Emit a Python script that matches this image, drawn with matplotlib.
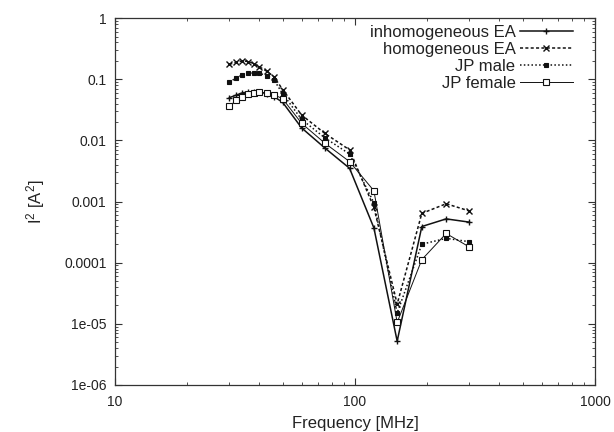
import matplotlib
matplotlib.use("Agg")
import matplotlib.pyplot as plt
from matplotlib.ticker import FixedLocator, LogLocator, NullFormatter

plt.rcParams['font.family'] = ['Liberation Sans', 'DejaVu Sans']
plt.rcParams['mathtext.fontset'] = 'custom'
plt.rcParams['mathtext.rm'] = 'Liberation Sans'
plt.rcParams['mathtext.it'] = 'Liberation Sans'

freq = [30, 32, 34, 36, 38, 40, 43, 46, 50, 60, 75, 95, 120, 150, 190, 240, 300]

inhom_ea = [0.050, 0.055, 0.060, 0.062, 0.063, 0.062, 0.058, 0.052, 0.042, 0.016, 0.0075, 0.0035,
            0.00037, 5.2e-6, 0.00039, 0.00052, 0.00046]
homog_ea = [0.175, 0.19, 0.20, 0.195, 0.18, 0.16, 0.135, 0.11, 0.068, 0.026, 0.013, 0.007,
            0.0008, 2.1e-5, 0.00064, 0.00092, 0.00070]
jp_male = [0.09, 0.105, 0.118, 0.125, 0.128, 0.125, 0.115, 0.098, 0.058, 0.022, 0.011, 0.006,
           0.00095, 1.5e-5, 0.00020, 0.00025, 0.00022]
jp_female = [0.036, 0.045, 0.052, 0.057, 0.060, 0.061, 0.060, 0.056, 0.048, 0.019, 0.009, 0.0045,
             0.0015, 1.05e-5, 0.000112, 0.00030, 0.00018]

labels = ["inhomogeneous EA", "homogeneous EA", "JP male", "JP female"]

xticks = [10, 100, 1000]
xticklabels = ["10", "100", "1000"]
yticks = [1e-6, 1e-5, 1e-4, 1e-3, 1e-2, 1e-1, 1]
yticklabels = ["1e-06", "1e-05", "0.0001", "0.001", "0.01", "0.1", "1"]

fig = plt.figure(figsize=(6.14, 4.32), dpi=100)
ax = fig.add_axes([0.187, 0.109, 0.782, 0.849])

col = '#111111'
ax.plot(freq, inhom_ea, color=col, lw=1.1, ls='-', marker='+', ms=5, mew=1.0, label=labels[0])
ax.plot(freq, homog_ea, color=col, lw=1.1, ls=(0, (2, 1.5)), marker='x', ms=4, mew=1.0, label=labels[1])
ax.plot(freq, jp_male, color=col, lw=1.1, ls=(0, (1, 1.5)), marker='s', ms=3.5, mew=0.8,
        mfc=col, label=labels[2])
ax.plot(freq, jp_female, color=col, lw=0.7, ls='-', marker='s', ms=4.5, mew=0.8,
        mfc='white', label=labels[3])

ax.set_xscale('log')
ax.set_yscale('log')
ax.set_xlim(10, 1000)
ax.set_ylim(1e-6, 1)
ax.xaxis.set_major_locator(FixedLocator(xticks))
ax.set_xticklabels(xticklabels)
ax.yaxis.set_major_locator(FixedLocator(yticks))
ax.set_yticklabels(yticklabels)
ax.xaxis.set_minor_locator(LogLocator(base=10, subs=range(2, 10)))
ax.yaxis.set_minor_locator(LogLocator(base=10, subs=range(2, 10)))
ax.xaxis.set_minor_formatter(NullFormatter())
ax.yaxis.set_minor_formatter(NullFormatter())
ax.tick_params(which='both', direction='in', top=True, right=True, colors='#333333',
               labelcolor='#222222', labelsize=10)
ax.tick_params(which='major', length=5, width=0.8)
ax.tick_params(which='minor', length=2.5, width=0.6)
ax.tick_params(axis='x', pad=7)
ax.tick_params(axis='y', pad=6)
for s in ax.spines.values():
    s.set_color('#333333')
    s.set_linewidth(0.9)

ax.set_xlabel("Frequency [MHz]", fontsize=12, color='#222222', labelpad=5)
ax.set_ylabel("I$^2$ [A$^2$]", fontsize=12, color='#222222', labelpad=12)

leg = ax.legend(loc='upper right', bbox_to_anchor=(0.954, 0.982), frameon=False,
                markerfirst=False, alignment='right', fontsize=12, handlelength=3.2,
                labelspacing=0.12, handletextpad=0.25, borderaxespad=0, borderpad=0)
for t in leg.get_texts():
    t.set_color('#222222')

fig.savefig("out.png", dpi=100)
